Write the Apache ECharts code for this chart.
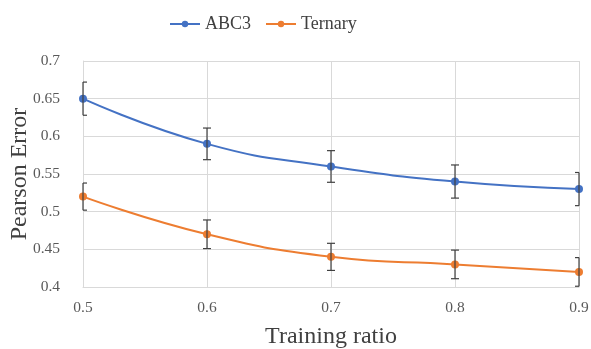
<!DOCTYPE html>
<html>
<head>
<meta charset="utf-8">
<script src="https://cdn.jsdelivr.net/npm/echarts@6/dist/echarts.min.js"></script>
<style>
  html, body { margin: 0; padding: 0; background: #fff; }
  #main { width: 591px; height: 349px; }
</style>
</head>
<body>
<div id="main"></div>
<script>
const ratios = [0.5, 0.6, 0.7, 0.8, 0.9]
const abc3 = [0.65, 0.59, 0.56, 0.54, 0.53]
const abc3Err = [0.022, 0.021, 0.021, 0.022, 0.022]
const ternary = [0.52, 0.47, 0.44, 0.43, 0.42]
const ternaryErr = [0.018, 0.019, 0.018, 0.019, 0.019]

const font = 'Liberation Serif'
const gridColor = '#d9d9d9'

// error bar rows: [x, low, high]
function errRows (vals, errs) {
  return ratios.map((x, i) => [x, vals[i] - errs[i], vals[i] + errs[i]])
}

function renderErr (params, api) {
  const x = api.value(0)
  const lo = api.coord([x, api.value(1)])
  const hi = api.coord([x, api.value(2)])
  const cs = params.coordSys
  const half = 4
  // clip caps at the plot edges like the original
  const l = Math.max(lo[0] - half, cs.x)
  const r = Math.min(lo[0] + half, cs.x + cs.width)
  const style = { stroke: '#404040', lineWidth: 1.2 }
  return {
    type: 'group',
    children: [
      { type: 'line', shape: { x1: lo[0], y1: lo[1], x2: hi[0], y2: hi[1] }, style: style },
      { type: 'line', shape: { x1: l, y1: lo[1], x2: r, y2: lo[1] }, style: style },
      { type: 'line', shape: { x1: l, y1: hi[1], x2: r, y2: hi[1] }, style: style }
    ]
  }
}

const myChart = echarts.init(document.getElementById('main'))
const option = {
  animation: false,
  textStyle: { fontFamily: font },
  legend: {
    data: ['ABC3', 'Ternary'],
    top: 10,
    left: 164,
    itemWidth: 30,
    itemHeight: 8,
    itemGap: 14,
    textStyle: { fontFamily: font, fontSize: 18, color: '#404040' }
  },
  grid: {
    left: 83,
    right: 12,
    top: 61,
    bottom: 62,
    containLabel: false,
    outerBoundsMode: 'none'
  },
  xAxis: {
    type: 'value',
    min: 0.5,
    max: 0.9,
    interval: 0.1,
    name: 'Training ratio',
    nameLocation: 'center',
    nameGap: 38,
    nameMoveOverlap: false,
    nameTextStyle: { fontFamily: font, fontSize: 24, color: '#404040' },
    axisLine: { show: true, lineStyle: { color: gridColor } },
    axisTick: { show: false },
    splitLine: { show: true, lineStyle: { color: gridColor } },
    axisLabel: { fontFamily: font, fontSize: 15.5, color: '#595959', margin: 13, formatter: v => v.toFixed(1) }
  },
  yAxis: {
    type: 'value',
    min: 0.4,
    max: 0.7,
    interval: 0.05,
    name: 'Pearson Error',
    nameLocation: 'center',
    nameGap: 51,
    nameMoveOverlap: false,
    nameTextStyle: { fontFamily: font, fontSize: 24, color: '#404040' },
    axisLine: { show: true, lineStyle: { color: gridColor } },
    axisTick: { show: false },
    splitLine: { show: true, lineStyle: { color: gridColor } },
    axisLabel: { fontFamily: font, fontSize: 15.5, color: '#595959', margin: 23, formatter: v => String(+v.toFixed(2)) }
  },
  series: [
    {
      name: 'ABC3',
      type: 'line',
      smooth: true,
      color: '#4472c4',
      symbol: 'circle',
      symbolSize: 8,
      lineStyle: { width: 2 },
      data: ratios.map((x, i) => [x, abc3[i]])
    },
    {
      name: 'Ternary',
      type: 'line',
      smooth: true,
      color: '#ed7d31',
      symbol: 'circle',
      symbolSize: 8,
      lineStyle: { width: 2 },
      data: ratios.map((x, i) => [x, ternary[i]])
    },
    {
      type: 'custom',
      renderItem: renderErr,
      z: 5,
      data: errRows(abc3, abc3Err)
    },
    {
      type: 'custom',
      renderItem: renderErr,
      z: 5,
      data: errRows(ternary, ternaryErr)
    }
  ]
}
myChart.setOption(option)
</script>
</body>
</html>
